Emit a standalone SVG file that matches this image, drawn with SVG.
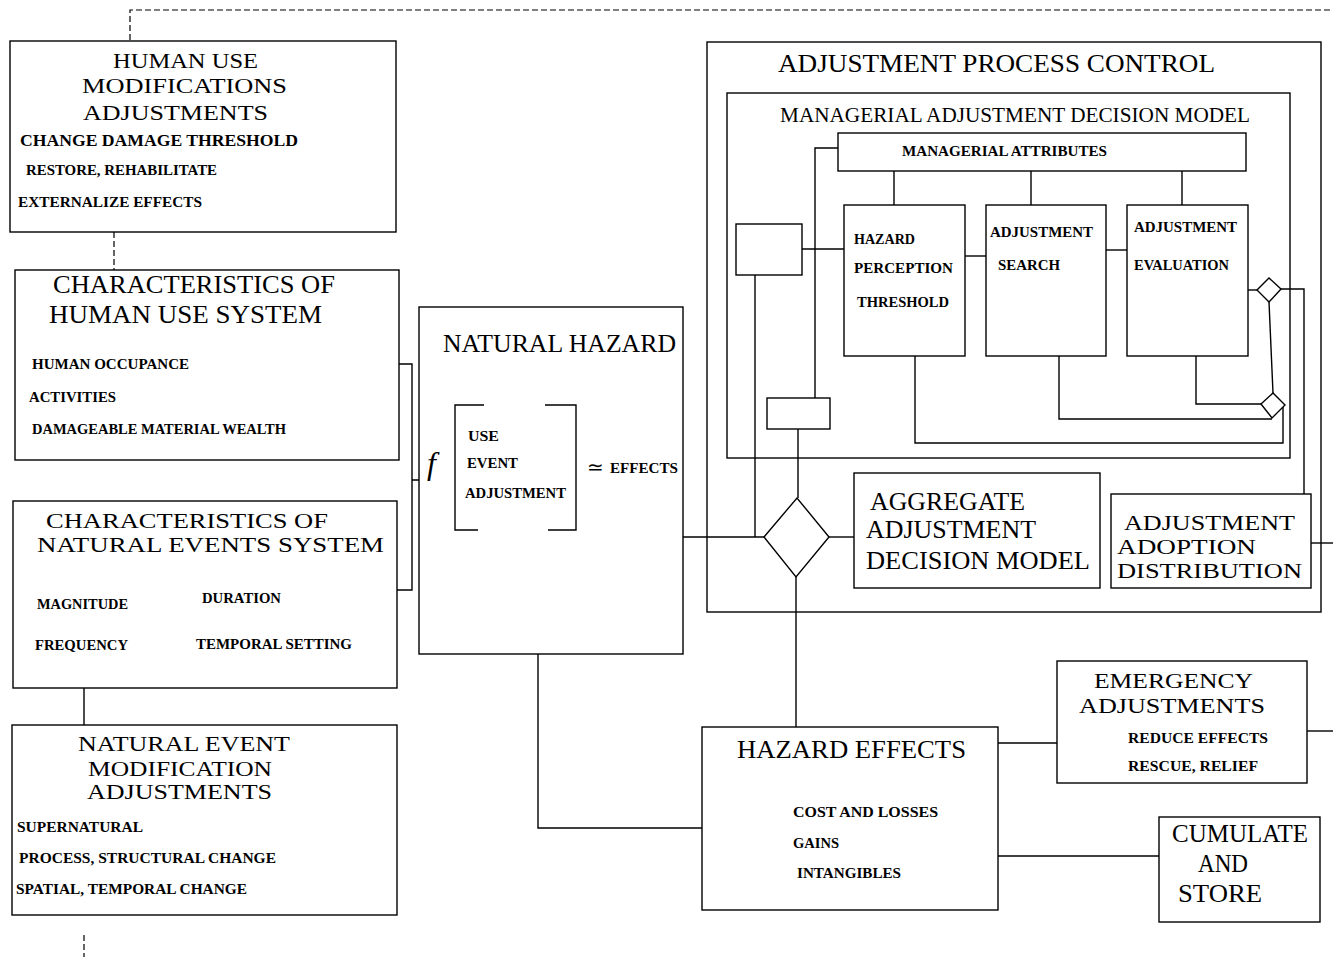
<svg xmlns="http://www.w3.org/2000/svg" width="1333" height="957" viewBox="0 0 1333 957">
<style>
.bg{fill:#fff}
.box{fill:none;stroke:#000;stroke-width:1.4}
.conn{fill:none;stroke:#000;stroke-width:1.4}
.dash{fill:none;stroke:#000;stroke-width:1.2;stroke-dasharray:6 3}
.ttl{font-family:"Liberation Serif","Times New Roman",serif;font-size:26px;fill:#000}
.t22{font-size:22px}
.t21{font-size:21px}
.t20{font-size:20px}
.t19{font-size:19px}
.t25{font-size:25px}
.sub{font-family:"Liberation Serif","Times New Roman",serif;font-size:22px;fill:#000}
.itm{font-family:"Liberation Serif","Times New Roman",serif;font-size:15px;font-weight:bold;fill:#000}
.i16{font-size:16px}
.i14{font-size:14px}
</style>
<rect class="bg" x="0" y="0" width="1333" height="957"/>
<g id="connectors">
<path class="dash" d="M130,40 V10 H1333"/>
<path class="dash" d="M114,232 V270"/>
<path class="conn" d="M84,688 V725"/>
<path class="dash" d="M84,935 V957"/>
<path class="conn" d="M399,364 H412 V590 H397 M412,480 H419"/>
<path class="conn" d="M683,537 H764"/>
<path class="conn" d="M755,275 V537"/>
<path class="conn" d="M838,148 H815 V398"/>
<path class="conn" d="M798,429 V498"/>
<path class="conn" d="M796,577 V727"/>
<path class="conn" d="M829,537 H854"/>
<path class="conn" d="M802,249 H844"/>
<path class="conn" d="M965,256 H986"/>
<path class="conn" d="M1106,250 H1127"/>
<path class="conn" d="M894,171 V205 M1031,171 V205 M1182,171 V205"/>
<path class="conn" d="M1248,290 H1257"/>
<path class="conn" d="M1281,289 H1304 V494"/>
<path class="conn" d="M1269,302 L1273,393"/>
<path class="conn" d="M1196,356 V404 H1261"/>
<path class="conn" d="M1059,356 V419 H1272"/>
<path class="conn" d="M915,356 V443 H1283 V407"/>
<path class="conn" d="M1311,543 H1333"/>
<path class="conn" d="M1307,731 H1333"/>
<path class="conn" d="M998,743 H1057"/>
<path class="conn" d="M998,856 H1159"/>
<path class="conn" d="M538,654 V828 H702"/>
<polygon class="conn" points="764,537 797,498 829,537 796,577"/>
<polygon class="conn" points="1257,290 1269,278 1281,289 1269,302"/>
<polygon class="conn" points="1261,404 1273,393 1285,405 1272,418"/>
</g>
<g id="human-use-modifications">
<rect class="box" x="10" y="41" width="386" height="191"/>
<text class="ttl t22" x="113" y="68" textLength="145" lengthAdjust="spacingAndGlyphs">HUMAN USE</text>
<text class="ttl t22" x="82" y="93" textLength="205" lengthAdjust="spacingAndGlyphs">MODIFICATIONS</text>
<text class="ttl t22" x="83" y="120" textLength="185" lengthAdjust="spacingAndGlyphs">ADJUSTMENTS</text>
<text class="itm i16" x="20" y="146" textLength="278" lengthAdjust="spacingAndGlyphs">CHANGE DAMAGE THRESHOLD</text>
<text class="itm" x="26" y="175" textLength="191" lengthAdjust="spacingAndGlyphs">RESTORE, REHABILITATE</text>
<text class="itm" x="18" y="207" textLength="184" lengthAdjust="spacingAndGlyphs">EXTERNALIZE EFFECTS</text>
</g>
<g id="characteristics-human-use">
<rect class="box" x="15" y="270" width="384" height="190"/>
<text class="ttl" x="53" y="293" textLength="282" lengthAdjust="spacingAndGlyphs">CHARACTERISTICS OF</text>
<text class="ttl" x="49" y="323" textLength="273" lengthAdjust="spacingAndGlyphs">HUMAN USE SYSTEM</text>
<text class="itm" x="32" y="369" textLength="157" lengthAdjust="spacingAndGlyphs">HUMAN OCCUPANCE</text>
<text class="itm" x="29" y="402" textLength="87" lengthAdjust="spacingAndGlyphs">ACTIVITIES</text>
<text class="itm" x="32" y="434" textLength="254" lengthAdjust="spacingAndGlyphs">DAMAGEABLE MATERIAL WEALTH</text>
</g>
<g id="characteristics-natural-events">
<rect class="box" x="13" y="501" width="384" height="187"/>
<text class="ttl t21" x="46" y="528" textLength="282" lengthAdjust="spacingAndGlyphs">CHARACTERISTICS OF</text>
<text class="ttl t21" x="37" y="552" textLength="347" lengthAdjust="spacingAndGlyphs">NATURAL EVENTS SYSTEM</text>
<text class="itm" x="37" y="609" textLength="91" lengthAdjust="spacingAndGlyphs">MAGNITUDE</text>
<text class="itm" x="202" y="603" textLength="79" lengthAdjust="spacingAndGlyphs">DURATION</text>
<text class="itm" x="35" y="650" textLength="93" lengthAdjust="spacingAndGlyphs">FREQUENCY</text>
<text class="itm" x="196" y="649" textLength="156" lengthAdjust="spacingAndGlyphs">TEMPORAL SETTING</text>
</g>
<g id="natural-event-modification">
<rect class="box" x="12" y="725" width="385" height="190"/>
<text class="ttl t21" x="78" y="751" textLength="212" lengthAdjust="spacingAndGlyphs">NATURAL EVENT</text>
<text class="ttl t21" x="88" y="776" textLength="184" lengthAdjust="spacingAndGlyphs">MODIFICATION</text>
<text class="ttl t20" x="87" y="799" textLength="185" lengthAdjust="spacingAndGlyphs">ADJUSTMENTS</text>
<text class="itm" x="17" y="832" textLength="126" lengthAdjust="spacingAndGlyphs">SUPERNATURAL</text>
<text class="itm" x="19" y="863" textLength="257" lengthAdjust="spacingAndGlyphs">PROCESS, STRUCTURAL CHANGE</text>
<text class="itm" x="16" y="894" textLength="231" lengthAdjust="spacingAndGlyphs">SPATIAL, TEMPORAL CHANGE</text>
</g>
<g id="natural-hazard">
<rect class="box" x="419" y="307" width="264" height="347"/>
<text class="ttl" x="443" y="352" textLength="233" lengthAdjust="spacingAndGlyphs">NATURAL HAZARD</text>
<text x="427" y="474" font-family="Liberation Serif, serif" font-style="italic" font-size="32">f</text>
<path class="conn" d="M484,405 H455 V530 H478 M545,405 H576 V530 H548"/>
<text class="itm" x="468" y="441" textLength="31" lengthAdjust="spacingAndGlyphs">USE</text>
<text class="itm" x="467" y="468" textLength="51" lengthAdjust="spacingAndGlyphs">EVENT</text>
<text class="itm" x="465" y="498" textLength="101" lengthAdjust="spacingAndGlyphs">ADJUSTMENT</text>
<text x="587" y="474" font-family="DejaVu Sans, sans-serif" font-size="20" fill="#000">≃</text>
<text class="itm" x="610" y="473" textLength="68" lengthAdjust="spacingAndGlyphs">EFFECTS</text>
</g>
<g id="adjustment-process-control">
<rect class="box" x="707" y="42" width="614" height="570"/>
<text class="ttl" x="778" y="72" textLength="437" lengthAdjust="spacingAndGlyphs">ADJUSTMENT PROCESS CONTROL</text>
</g>
<g id="managerial-adjustment-decision-model">
<rect class="box" x="727" y="93" width="563" height="365"/>
<text class="sub" x="780" y="122" textLength="470" lengthAdjust="spacingAndGlyphs">MANAGERIAL ADJUSTMENT DECISION MODEL</text>
</g>
<g id="managerial-attributes">
<rect class="box" x="838" y="133" width="408" height="38"/>
<text class="itm i14" x="902" y="156" textLength="205" lengthAdjust="spacingAndGlyphs">MANAGERIAL ATTRIBUTES</text>
</g>
<g id="box-a">
<rect class="box" x="736" y="224" width="66" height="51"/>
</g>
<g id="box-b">
<rect class="box" x="767" y="398" width="63" height="31"/>
</g>
<g id="hazard-perception-threshold">
<rect class="box" x="844" y="205" width="121" height="151"/>
<text class="itm i14" x="854" y="244" textLength="61" lengthAdjust="spacingAndGlyphs">HAZARD</text>
<text class="itm i14" x="854" y="273" textLength="99" lengthAdjust="spacingAndGlyphs">PERCEPTION</text>
<text class="itm i14" x="857" y="307" textLength="92" lengthAdjust="spacingAndGlyphs">THRESHOLD</text>
</g>
<g id="adjustment-search">
<rect class="box" x="986" y="205" width="120" height="151"/>
<text class="itm i14" x="990" y="237" textLength="103" lengthAdjust="spacingAndGlyphs">ADJUSTMENT</text>
<text class="itm i14" x="998" y="270" textLength="62" lengthAdjust="spacingAndGlyphs">SEARCH</text>
</g>
<g id="adjustment-evaluation">
<rect class="box" x="1127" y="205" width="121" height="151"/>
<text class="itm i14" x="1134" y="232" textLength="103" lengthAdjust="spacingAndGlyphs">ADJUSTMENT</text>
<text class="itm i14" x="1134" y="270" textLength="95" lengthAdjust="spacingAndGlyphs">EVALUATION</text>
</g>
<g id="aggregate-adjustment-decision-model">
<rect class="box" x="854" y="473" width="246" height="115"/>
<text class="ttl t25" x="870" y="510" textLength="155" lengthAdjust="spacingAndGlyphs">AGGREGATE</text>
<text class="ttl t25" x="866" y="538" textLength="170" lengthAdjust="spacingAndGlyphs">ADJUSTMENT</text>
<text class="ttl t25" x="866" y="569" textLength="224" lengthAdjust="spacingAndGlyphs">DECISION MODEL</text>
</g>
<g id="adjustment-adoption-distribution">
<rect class="box" x="1111" y="494" width="200" height="94"/>
<text class="ttl t21" x="1124" y="530" textLength="171" lengthAdjust="spacingAndGlyphs">ADJUSTMENT</text>
<text class="ttl t21" x="1117" y="554" textLength="139" lengthAdjust="spacingAndGlyphs">ADOPTION</text>
<text class="ttl t21" x="1117" y="578" textLength="185" lengthAdjust="spacingAndGlyphs">DISTRIBUTION</text>
</g>
<g id="emergency-adjustments">
<rect class="box" x="1057" y="661" width="250" height="122"/>
<text class="ttl t22" x="1094" y="688" textLength="159" lengthAdjust="spacingAndGlyphs">EMERGENCY</text>
<text class="ttl t22" x="1079" y="713" textLength="186" lengthAdjust="spacingAndGlyphs">ADJUSTMENTS</text>
<text class="itm" x="1128" y="743" textLength="140" lengthAdjust="spacingAndGlyphs">REDUCE EFFECTS</text>
<text class="itm" x="1128" y="771" textLength="130" lengthAdjust="spacingAndGlyphs">RESCUE, RELIEF</text>
</g>
<g id="hazard-effects">
<rect class="box" x="702" y="727" width="296" height="183"/>
<text class="ttl" x="737" y="758" textLength="229" lengthAdjust="spacingAndGlyphs">HAZARD EFFECTS</text>
<text class="itm" x="793" y="817" textLength="145" lengthAdjust="spacingAndGlyphs">COST AND LOSSES</text>
<text class="itm" x="793" y="848" textLength="46" lengthAdjust="spacingAndGlyphs">GAINS</text>
<text class="itm" x="797" y="878" textLength="104" lengthAdjust="spacingAndGlyphs">INTANGIBLES</text>
</g>
<g id="cumulate-and-store">
<rect class="box" x="1159" y="817" width="161" height="105"/>
<text class="ttl" x="1172" y="842" textLength="136" lengthAdjust="spacingAndGlyphs">CUMULATE</text>
<text class="ttl" x="1198" y="872" textLength="50" lengthAdjust="spacingAndGlyphs">AND</text>
<text class="ttl" x="1178" y="902" textLength="84" lengthAdjust="spacingAndGlyphs">STORE</text>
</g>
</svg>
